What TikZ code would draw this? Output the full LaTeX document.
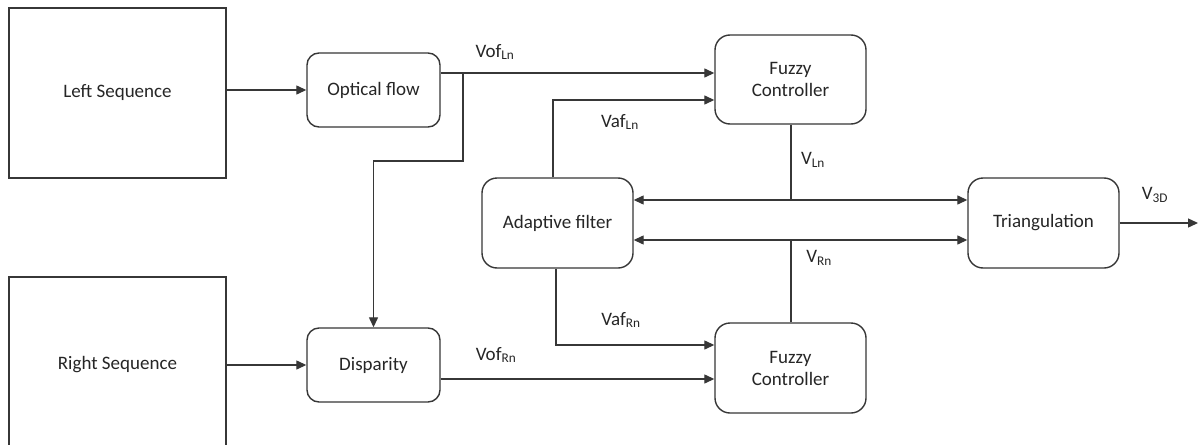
\documentclass[tikz,border=0pt]{standalone}
\usepackage{fontspec}
\setmainfont{Carlito}
\usetikzlibrary{arrows.meta}
\definecolor{txt}{RGB}{38,38,38}
\definecolor{ln}{RGB}{55,55,55}
\tikzset{
  box/.style={draw=ln, line width=1.4pt, inner sep=0pt, align=center, text=txt,
    font=\fontsize{19}{22}\selectfont},
  rbox/.style={box, rounded corners=12pt},
  wire/.style={draw=ln, line width=1.3pt},
  arr/.style={wire, -{Triangle[length=10pt,width=9pt]}},
  lbl/.style={inner sep=0pt, text=txt, font=\fontsize{19}{22}\selectfont},
}
\newcommand{\sbs}[1]{\textsubscript{#1}}
\begin{document}
\begin{tikzpicture}[x=1pt,y=-1pt]
\clip (0,0) rectangle (1198,444);
\fill[white] (0,0) rectangle (1198,444);
% boxes
\node[box, minimum width=217pt, minimum height=170pt] (LS) at (117.5,93) {Left Sequence};
\node[box, minimum width=217pt, minimum height=176pt] (RS) at (117.5,365) {Right Sequence};
\node[rbox, minimum width=133pt, minimum height=74pt] (OF) at (373.5,90) {Optical flow};
\node[rbox, minimum width=133pt, minimum height=74pt] (DI) at (373.5,365) {Disparity};
\node[rbox, rounded corners=15pt, minimum width=151pt, minimum height=89pt] (FC1) at (790.5,79.5) {Fuzzy\\Controller};
\node[rbox, rounded corners=15pt, minimum width=151pt, minimum height=90pt] (FC2) at (790.5,368) {Fuzzy\\Controller};
\node[rbox, rounded corners=15pt, minimum width=151pt, minimum height=90pt] (AF) at (557.5,223) {Adaptive filter};
\node[rbox, rounded corners=15pt, minimum width=151pt, minimum height=90pt] (TR) at (1043.5,223) {Triangulation};
% coordinates
\coordinate (ofo) at ([yshift=17pt]OF.east);
\coordinate (br) at (463,73);
\coordinate (brd) at (463,161);
\coordinate (jL) at (791,200);
\coordinate (jR) at (791,240);
\coordinate (out) at (1198,223);
% connectors
\draw[arr] (LS.east |- OF.west) -- (OF.west);
\draw[arr] (RS.east |- DI.west) -- (DI.west);
\draw[arr] (ofo) -- (ofo -| FC1.west);
\draw[arr] (br) -- (brd) -| (DI.north);
\draw[arr] ([xshift=-4.5pt]AF.north) |- ([yshift=-20.5pt]FC1.west);
\draw[wire] (FC1.south -| jL) -- (jL);
\draw[arr] (jL) -- (jL -| AF.east);
\draw[arr] (jL) -- (jL -| TR.west);
\draw[wire] (FC2.north -| jR) -- (jR);
\draw[arr] (jR) -- (jR -| AF.east);
\draw[arr] (jR) -- (jR -| TR.west);
\draw[arr] ([xshift=-1.5pt]AF.south) |- ([yshift=23pt]FC2.west);
\draw[arr] ([yshift=-14pt]DI.east) -- ([yshift=-14pt]DI.east -| FC2.west);
\draw[arr] (TR.east) -- (out);
% labels
\node[lbl] (lofl) at (495,52) {Vof\sbs{Ln}};
\node[lbl] (lafl) at (620,122) {Vaf\sbs{Ln}};
\node[lbl] (lvl) at (813,160) {V\sbs{Ln}};
\node[lbl] (lvr) at (819,258) {V\sbs{Rn}};
\node[lbl] (lv3) at (1155,195) {V\sbs{3D}};
\node[lbl] (lafr) at (621,320) {Vaf\sbs{Rn}};
\node[lbl] (lofr) at (496,355) {Vof\sbs{Rn}};
\end{tikzpicture}
\end{document}
